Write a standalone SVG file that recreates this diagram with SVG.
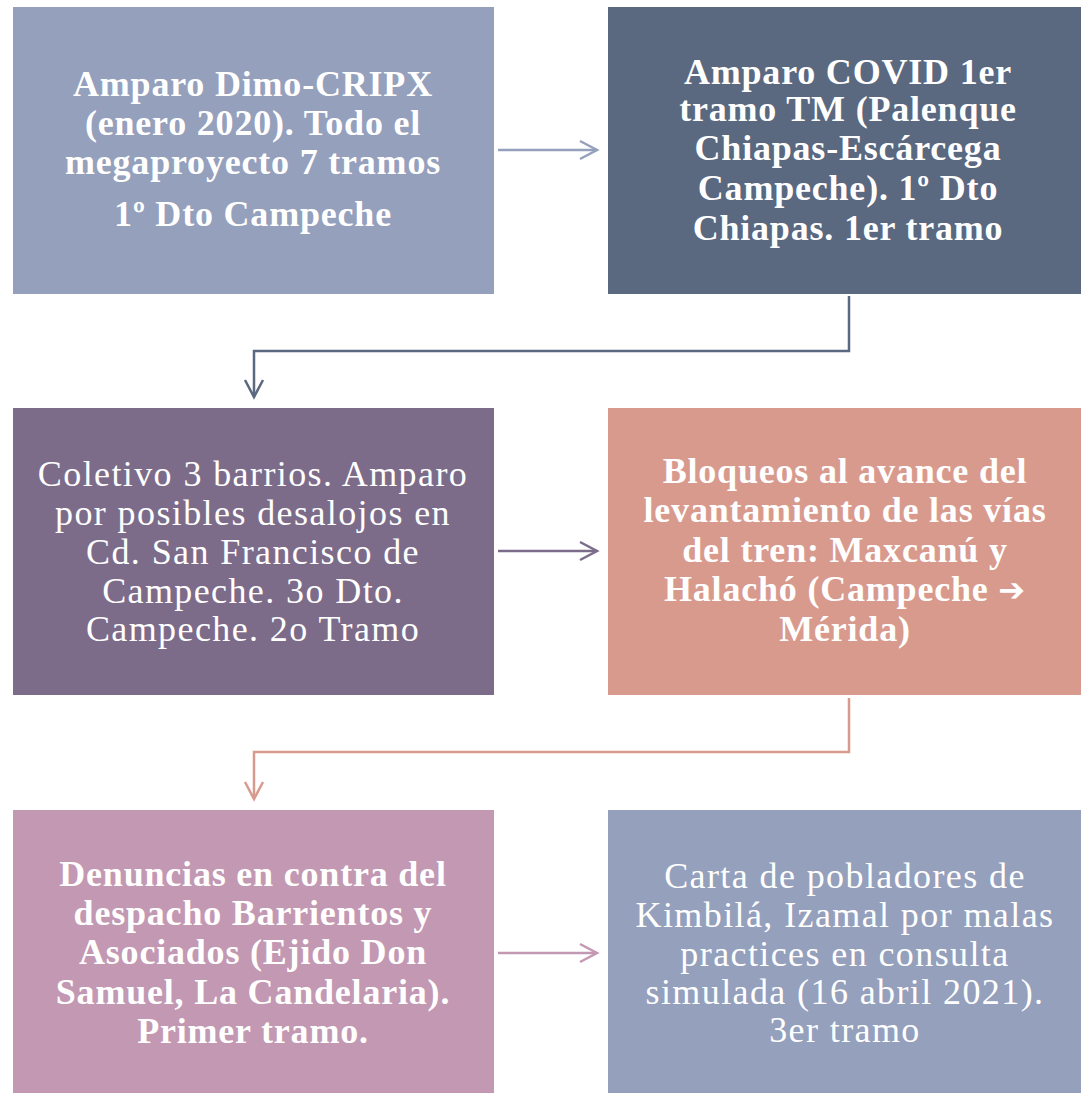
<svg xmlns="http://www.w3.org/2000/svg" width="1081" height="1093" viewBox="0 0 1081 1093">
<style>
text{font-family:"Liberation Serif","Times New Roman",serif;font-size:36px;fill:#ffffff;text-anchor:middle;letter-spacing:1.4px}
.b{font-weight:bold;letter-spacing:0.8px}
.sym{font-family:"DejaVu Sans",sans-serif;font-size:32px}
.c{fill:none;stroke-width:2.5}
</style>
<rect width="1081" height="1093" fill="#ffffff"/>
<g id="connectors">
<g class="c" stroke="#95A0BC"><line x1="498" y1="150" x2="597" y2="150"/><path d="M580,141 L597,150 L580,159"/></g>
<g class="c" stroke="#5A6880"><path d="M849,296 V351 H254 V397"/><path d="M245,380 L254,397 L263,380"/></g>
<g class="c" stroke="#7C6C8A"><line x1="498" y1="551" x2="597" y2="551"/><path d="M580,542 L597,551 L580,560"/></g>
<g class="c" stroke="#D99A8E"><path d="M849,698 V752 H254 V799"/><path d="M245,782 L254,799 L263,782"/></g>
<g class="c" stroke="#C398B2"><line x1="498" y1="953" x2="597" y2="953"/><path d="M580,944 L597,953 L580,962"/></g>
</g>
<g id="node1"><rect x="13" y="7" width="481" height="287" fill="#95A0BC"/>
<text class="b" x="253" y="96">Amparo Dimo-CRIPX</text>
<text class="b" x="253" y="135">(enero 2020). Todo el</text>
<text class="b" x="253" y="174">megaproyecto 7 tramos</text>
<text class="b" x="253" y="226">1º Dto Campeche</text></g>
<g id="node2"><rect x="608" y="7" width="473" height="287" fill="#5A6880"/>
<text class="b" x="848" y="84">Amparo COVID 1er</text>
<text class="b" x="848" y="121">tramo TM (Palenque</text>
<text class="b" x="848" y="160">Chiapas-Escárcega</text>
<text class="b" x="848" y="200">Campeche). 1º Dto</text>
<text class="b" x="848" y="240">Chiapas. 1er tramo</text></g>
<g id="node3"><rect x="13" y="408" width="481" height="287" fill="#7C6C8A"/>
<text x="253" y="486">Coletivo 3 barrios. Amparo</text>
<text x="253" y="525">por posibles desalojos en</text>
<text x="253" y="564">Cd. San Francisco de</text>
<text x="253" y="603">Campeche. 3o Dto.</text>
<text x="253" y="641">Campeche. 2o Tramo</text></g>
<g id="node4"><rect x="608" y="408" width="473" height="287" fill="#D99A8E"/>
<text class="b" x="845" y="483">Bloqueos al avance del</text>
<text class="b" x="845" y="522">levantamiento de las vías</text>
<text class="b" x="845" y="562">del tren: Maxcanú y</text>
<text class="b" x="845" y="601">Halachó (Campeche <tspan class="sym">➔</tspan></text>
<text class="b" x="845" y="641">Mérida)</text></g>
<g id="node5"><rect x="13" y="810" width="481" height="283" fill="#C398B2"/>
<text class="b" x="253" y="886">Denuncias en contra del</text>
<text class="b" x="253" y="925">despacho Barrientos y</text>
<text class="b" x="253" y="964">Asociados (Ejido Don</text>
<text class="b" x="253" y="1004">Samuel, La Candelaria).</text>
<text class="b" x="253" y="1043">Primer tramo.</text></g>
<g id="node6"><rect x="608" y="810" width="473" height="283" fill="#95A0BC"/>
<text x="845" y="888">Carta de pobladores de</text>
<text x="845" y="927">Kimbilá, Izamal por malas</text>
<text x="845" y="966">practices en consulta</text>
<text x="845" y="1004">simulada (16 abril 2021).</text>
<text x="845" y="1042">3er tramo</text></g>
</svg>
